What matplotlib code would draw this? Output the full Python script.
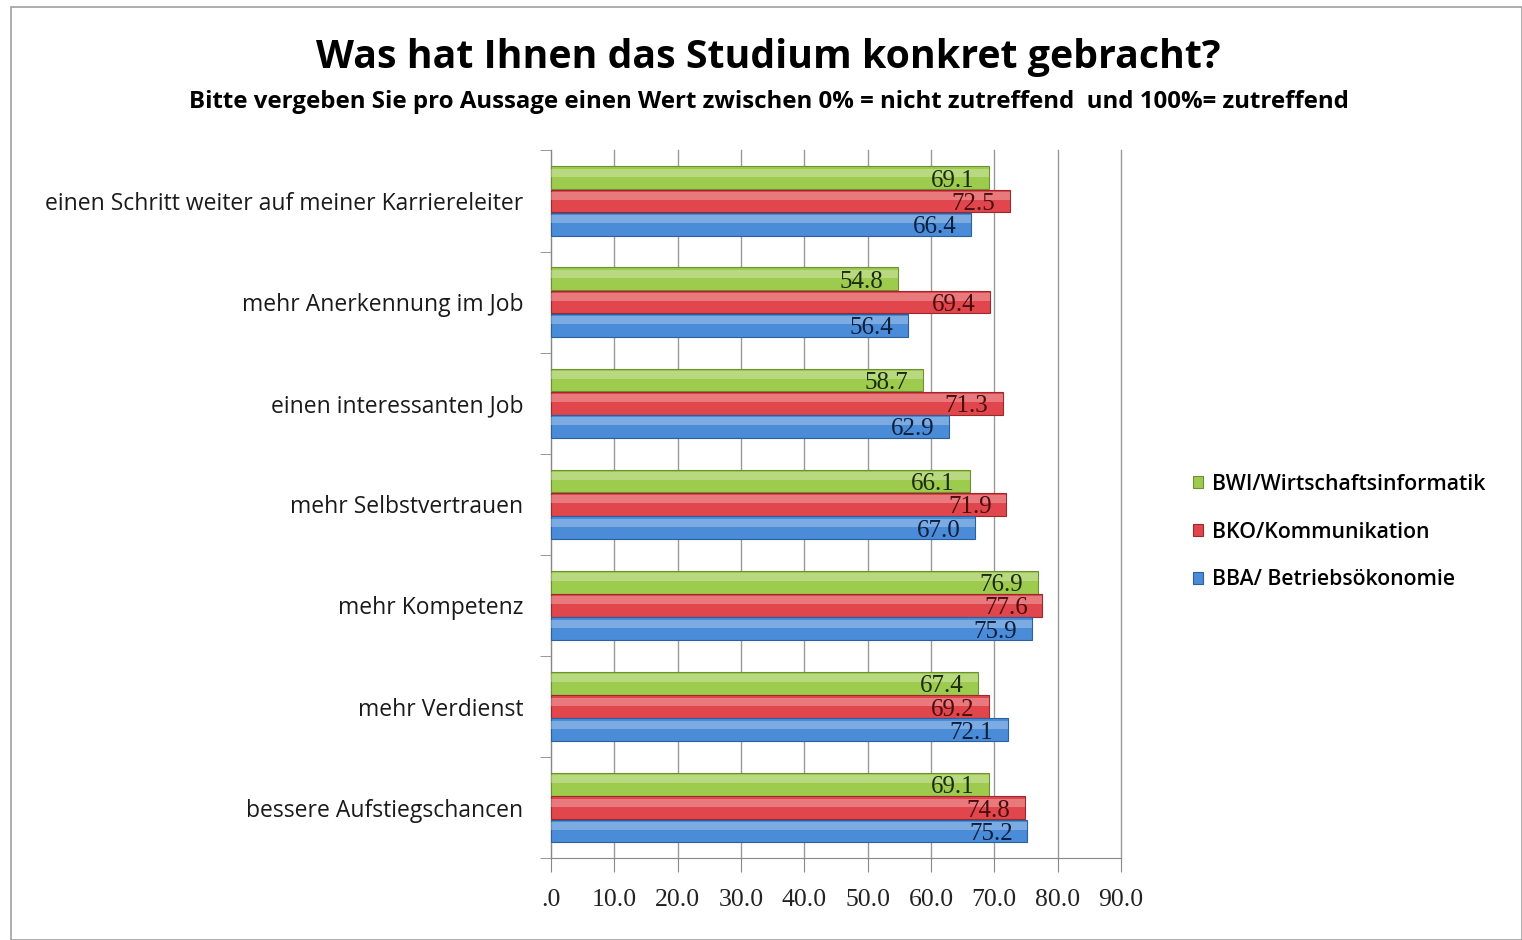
import matplotlib.pyplot as plt
import numpy as np
from matplotlib.patches import Rectangle

categories = [
    "einen Schritt weiter auf meiner Karriereleiter",
    "mehr Anerkennung im Job",
    "einen interessanten Job",
    "mehr Selbstvertrauen",
    "mehr Kompetenz",
    "mehr Verdienst",
    "bessere Aufstiegschancen",
]
bwi = [69.1, 54.8, 58.7, 66.1, 76.9, 67.4, 69.1]
bko = [72.5, 69.4, 71.3, 71.9, 77.6, 69.2, 74.8]
bba = [66.4, 56.4, 62.9, 67.0, 75.9, 72.1, 75.2]
series_names = ["BWI/Wirtschaftsinformatik", "BKO/Kommunikation", "BBA/ Betriebsökonomie"]
xticks = [0, 10, 20, 30, 40, 50, 60, 70, 80, 90]
xtick_labels = [".0", "10.0", "20.0", "30.0", "40.0", "50.0", "60.0", "70.0", "80.0", "90.0"]

colors = ["#9dcb4e", "#e0464b", "#4a8cd8"]
edge_colors = ["#6f8f33", "#9a2a2e", "#2d5f9e"]
label_colors = ["#1d2a10", "#4a0d10", "#0d1f3d"]

fig = plt.figure(figsize=(15.22, 9.4), dpi=100)
fig.patches.append(Rectangle((0.007, 0.0), 0.993, 0.993, transform=fig.transFigure,
                             fill=False, edgecolor="#a0a0a0", linewidth=1.2))

ax = fig.add_axes([0.362, 0.087, 0.3745, 0.753])

y = np.arange(len(categories))
h = 0.225
offsets = [-0.23, 0.0, 0.23]

for i, vals in enumerate([bwi, bko, bba]):
    pos = y + offsets[i]
    ax.barh(pos, vals, height=h, color=colors[i], edgecolor=edge_colors[i],
            linewidth=0.8, zorder=3, label=series_names[i])
    # glossy highlight on upper part of bars
    ax.barh(pos - h * 0.22, vals, height=h * 0.35, color="white", alpha=0.28,
            linewidth=0, zorder=4)
    for p, v in zip(pos, vals):
        ax.text(v - 2.3, p + 0.03, f"{v:.1f}", ha="right", va="center",
                fontsize=18, family="Liberation Serif", color=label_colors[i], zorder=5)

ax.set_xlim(0, 90)
ax.set_ylim(len(categories) - 0.5, -0.5)
ax.set_xticks(xticks)
ax.set_xticklabels(xtick_labels, family="Liberation Serif", fontsize=18.5, color="#222222")
ax.set_yticks(np.arange(len(categories) + 1) - 0.5, minor=True)
ax.set_yticks(y)
ax.set_yticklabels(categories, family="Open Sans", fontsize=16.5, color="#1a1a1a")
ax.tick_params(axis="y", which="major", length=0, pad=20)
ax.tick_params(axis="y", which="minor", length=8, color="#888888")
ax.tick_params(axis="x", length=10, color="#888888", pad=12)
ax.grid(axis="x", color="#999999", linewidth=1, zorder=0)
for line in ax.get_xgridlines():
    line.set_clip_on(False)
for s in ["top", "right"]:
    ax.spines[s].set_visible(False)
ax.spines["left"].set_color("#888888")
ax.spines["bottom"].set_color("#888888")

fig.text(0.505, 0.939, "Was hat Ihnen das Studium konkret gebracht?", ha="center", va="center",
         fontsize=28.3, fontweight="bold", family="Open Sans")
fig.text(0.505, 0.891, "Bitte vergeben Sie pro Aussage einen Wert zwischen 0% = nicht zutreffend  und 100%= zutreffend",
         ha="center", va="center", fontsize=17.3, fontweight="bold", family="Open Sans")

leg = fig.legend(loc="center left", bbox_to_anchor=(0.771, 0.434), frameon=False,
                 prop={"family": "Open Sans", "size": 15.3, "weight": "semibold"},
                 handlelength=0.5, handleheight=0.5, handletextpad=0.4, labelspacing=1.25)

fig.savefig("out.png", dpi=100)
